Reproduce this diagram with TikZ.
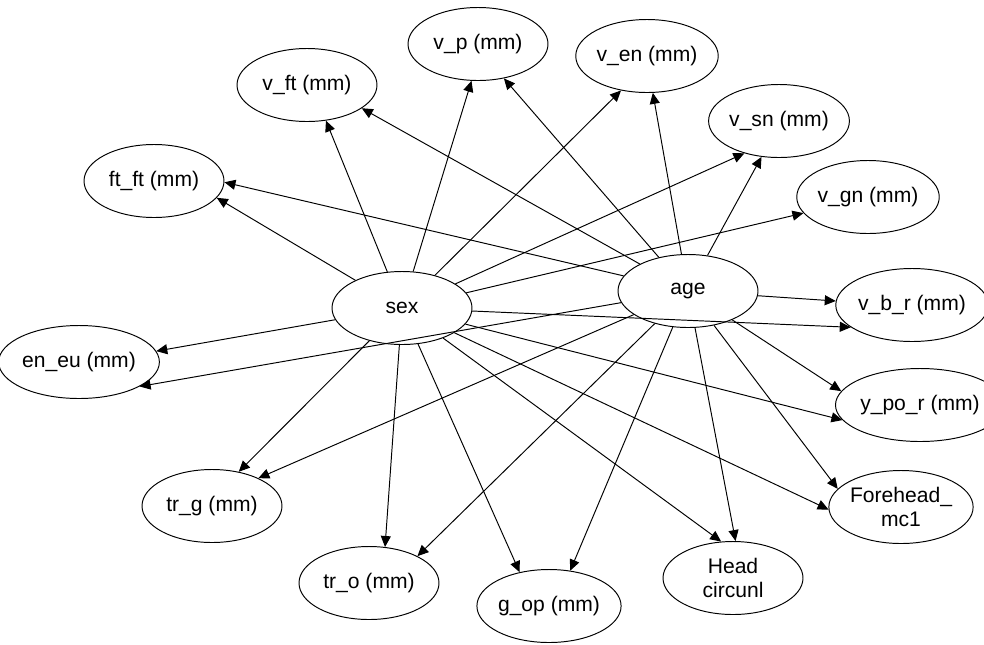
\documentclass[tikz,border=0pt]{standalone}
\usepackage{fontspec}
\setmainfont{Liberation Sans}
\usetikzlibrary{shapes.geometric,arrows.meta}

\begin{document}
\begin{tikzpicture}[x=0.2mm, y=-0.2mm,
  var/.style={ellipse, draw, line width=0.55pt, minimum width=2.8cm, minimum height=1.46cm,
    inner sep=0pt, align=center, font=\fontsize{12}{13.5}\selectfont},
  edge/.style={line width=0.55pt, -{Triangle[length=2.2mm, width=2mm]}}]

\useasboundingbox (0,0) rectangle (984,644);
\clip (0,0) rectangle (984,644);

% parents
\node[var] (sex) at (402,308) {sex};
\node[var] (age) at (688,291) {age};

% children
\node[var] (ftft)     at (154,181) {ft\_ft (mm)};
\node[var] (vft)      at (307,85)  {v\_ft (mm)};
\node[var] (vp)       at (478,44)  {v\_p (mm)};
\node[var] (ven)      at (647,56)  {v\_en (mm)};
\node[var] (vsn)      at (779,121) {v\_sn (mm)};
\node[var] (vgn)      at (868,197) {v\_gn (mm)};
\node[var] (vbr)      at (912,305) {v\_b\_r (mm)};
\node[var] (ypor)     at (920,405) {y\_po\_r (mm)};
\node[var] (forehead) at (901,507) {Forehead\_\\mc1};
\node[var] (head)     at (733,578) {Head\\circunl};
\node[var] (gop)      at (549,606) {g\_op (mm)};
\node[var] (tro)      at (369,583) {tr\_o (mm)};
\node[var] (trg)      at (212,506) {tr\_g (mm)};
\node[var] (eneu)     at (79,362)  {en\_eu (mm)};

% edges from sex
\draw[edge] (sex) -- (ftft.-15);
\draw[edge] (sex) -- (vft.-62);
\draw[edge] (sex) -- (vp.-100);
\draw[edge] (sex) -- (ven.-127);
\draw[edge] (sex) -- (vsn.-137);
\draw[edge] (sex) -- (vgn.-166);
\draw[edge] (sex) -- (vbr.-160);
\draw[edge] (sex) -- (ypor.-169);
\draw[edge] (sex) -- (forehead.-178);
\draw[edge] (sex) -- (head.108);
\draw[edge] (sex) -- (gop.131);
\draw[edge] (sex) -- (tro.66);
\draw[edge] (sex) -- (trg.52);
\draw[edge] (sex) -- (eneu.8);

% edges from age
\draw[edge] (age) -- (ftft.-1);
\draw[edge] (age) -- (vft.-23);
\draw[edge] (age) -- (vp.-53);
\draw[edge] (age) -- (ven.-81);
\draw[edge] (age) -- (vsn.-116);
\draw[edge] (age) -- (vbr.177);
\draw[edge] (age) -- (ypor.170);
\draw[edge] (age) -- (forehead.164);
\draw[edge] (age) -- (head.86);
\draw[edge] (age) -- (gop.59);
\draw[edge] (age) -- (tro.29);
\draw[edge] (age) -- (trg.31);
\draw[edge] (age) -- (eneu.-22);

\end{tikzpicture}
\end{document}
